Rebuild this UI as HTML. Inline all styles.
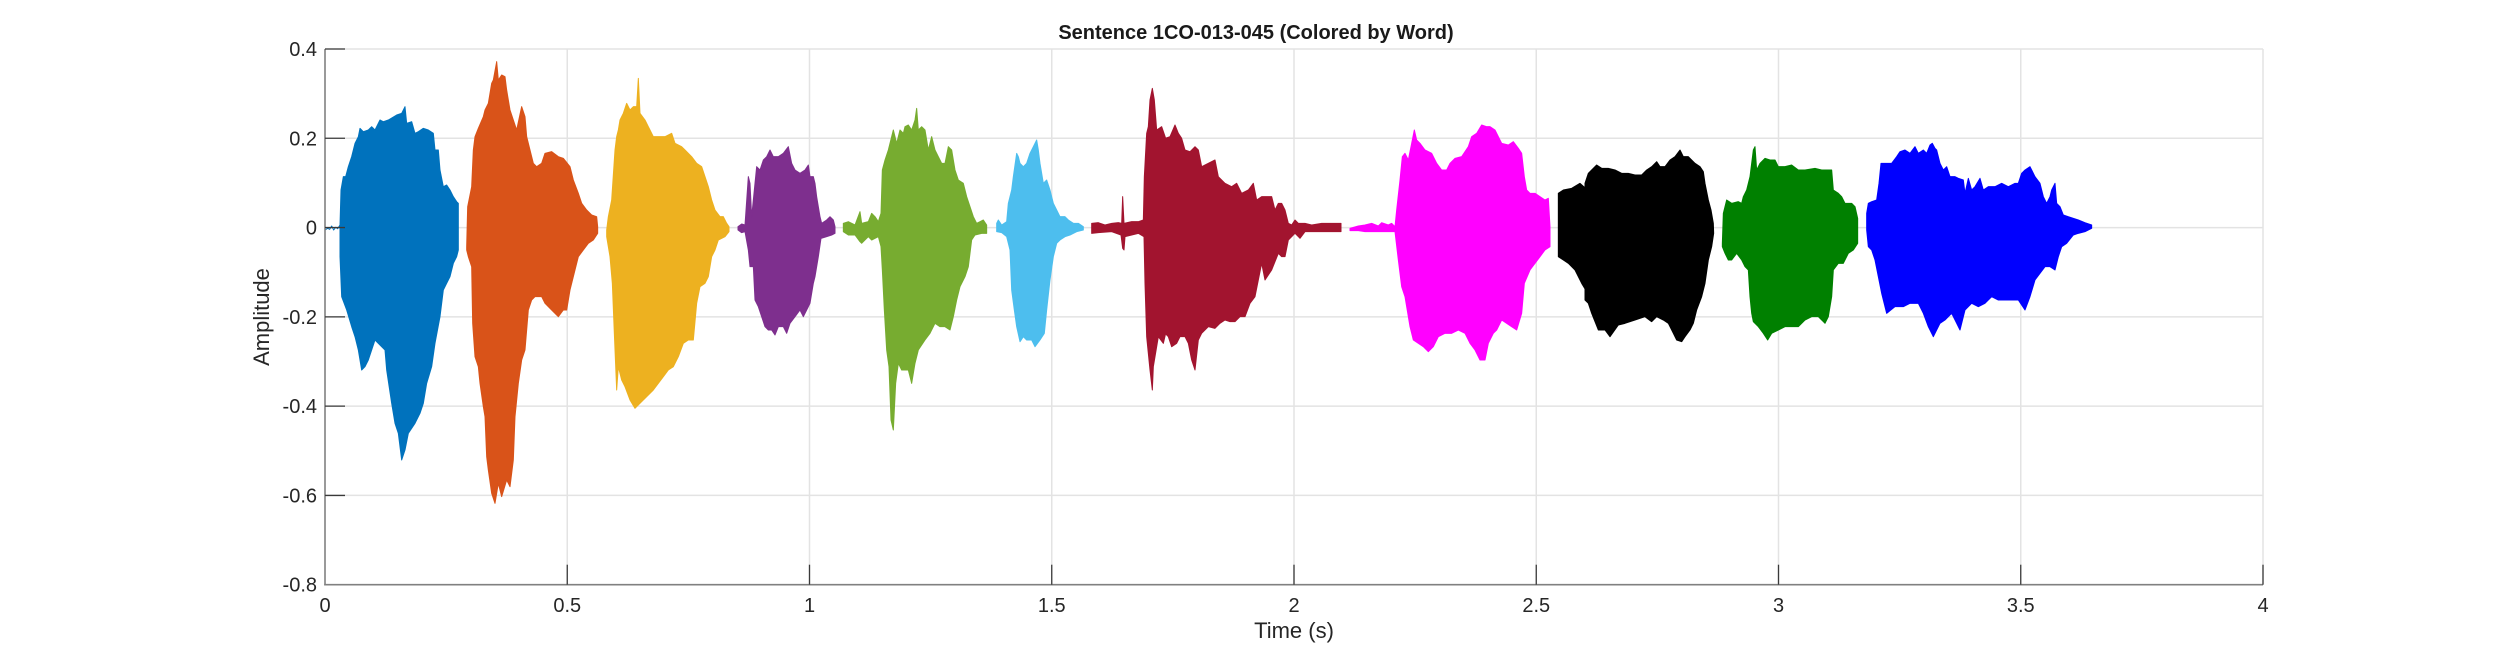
<!DOCTYPE html>
<html><head><meta charset="utf-8"><style>
html,body{margin:0;padding:0;background:#fff;}
svg{display:block;}
text{font-family:"Liberation Sans",Arial,sans-serif;}
</style></head><body>
<svg width="2500" height="657" viewBox="0 0 2500 657" xmlns="http://www.w3.org/2000/svg">
<rect width="2500" height="657" fill="#fff"/>
<!-- grid -->
<g stroke="#e3e3e3" stroke-width="1.5" fill="none">
<line x1="567.25" y1="49" x2="567.25" y2="584.7"/>
<line x1="809.5" y1="49" x2="809.5" y2="584.7"/>
<line x1="1051.75" y1="49" x2="1051.75" y2="584.7"/>
<line x1="1294" y1="49" x2="1294" y2="584.7"/>
<line x1="1536.25" y1="49" x2="1536.25" y2="584.7"/>
<line x1="1778.5" y1="49" x2="1778.5" y2="584.7"/>
<line x1="2020.75" y1="49" x2="2020.75" y2="584.7"/>
<line x1="2263" y1="49" x2="2263" y2="584.7"/>
<line x1="325" y1="49" x2="2263" y2="49"/>
<line x1="325" y1="138.28" x2="2263" y2="138.28"/>
<line x1="325" y1="227.57" x2="2263" y2="227.57"/>
<line x1="325" y1="316.85" x2="2263" y2="316.85"/>
<line x1="325" y1="406.13" x2="2263" y2="406.13"/>
<line x1="325" y1="495.42" x2="2263" y2="495.42"/>
</g>

<!-- waveforms: zoom7 group (x0=325) -->
<g transform="translate(325,50) scale(0.333333)" stroke-width="3" stroke-linejoin="round">
<polyline fill="none" stroke="#0072BD" points="0,540 8,535 14,538 20,528 26,540 32,532 38,536 45,525"/>
<polygon fill="#0072BD" stroke="#0072BD" points="45,525 48,420 55,380 62,380 70,350 80,320 90,280 100,260 105,235 115,245 130,240 140,230 150,240 165,210 175,215 190,210 215,195 230,190 240,170 245,220 260,215 270,250 280,245 295,235 310,240 325,250 330,300 340,300 345,360 355,410 365,405 375,420 385,440 395,455 400,460 400,600 395,620 385,640 375,680 365,700 355,720 345,800 330,880 320,950 305,1000 295,1060 285,1090 270,1120 250,1150 240,1200 230,1230 220,1150 210,1120 200,1060 185,960 180,900 150,870 130,930 120,950 110,960 100,900 90,860 80,830 65,780 50,740 45,620"/>
<polygon fill="#D95319" stroke="#D95319" points="425,590 428,470 440,410 445,300 450,260 460,235 475,200 480,180 490,160 500,100 505,90 515,35 520,90 530,75 540,80 545,120 555,180 565,210 575,240 590,170 600,200 605,260 615,300 625,340 635,350 650,340 660,310 680,305 700,320 715,325 735,350 745,390 760,430 770,460 785,480 800,495 815,500 818,530 818,550 805,570 790,580 775,600 760,620 745,680 735,720 725,780 715,780 700,800 680,780 660,760 650,740 630,740 620,750 610,780 600,900 590,930 580,1000 570,1100 565,1230 555,1310 545,1290 530,1340 520,1300 510,1360 500,1330 490,1260 485,1220 480,1100 475,1070 465,1000 460,950 450,920 443,820 440,650 430,620 425,600"/>
<polygon fill="#EDB120" stroke="#EDB120" points="845,540 850,500 860,450 870,300 875,260 880,240 885,210 895,190 905,160 915,180 925,170 935,170 940,85 945,190 960,210 970,230 985,260 1000,260 1020,260 1040,250 1050,280 1070,290 1080,300 1100,320 1115,340 1130,350 1140,380 1150,410 1160,450 1170,480 1185,500 1195,500 1205,520 1212,530 1212,545 1200,560 1180,570 1170,600 1160,620 1150,680 1140,700 1125,710 1115,760 1105,870 1090,870 1075,880 1060,920 1045,950 1030,960 1015,980 1000,1000 985,1020 965,1040 945,1060 930,1075 915,1050 900,1010 890,990 880,950 875,1020 868,850 862,700 855,620 845,560"/>
</g>

<!-- zoom8 group (x0=745) -->
<g transform="translate(745,50) scale(0.333333)" stroke-width="3" stroke-linejoin="round">
<polygon fill="#7E2F8E" stroke="#7E2F8E" points="-21,530 -10,522 0,525 10,380 15,400 20,500 30,400 35,350 45,360 55,330 65,320 75,300 85,320 100,320 115,310 130,290 140,340 150,360 165,370 180,360 190,345 195,380 205,380 210,400 215,440 220,470 225,500 230,520 245,510 255,500 265,510 270,530 270,550 260,555 245,560 228,565 220,620 210,680 205,700 195,760 185,780 175,800 165,780 150,800 135,820 125,850 115,830 100,830 90,855 80,840 70,840 60,830 50,800 40,770 30,750 25,650 15,650 10,600 0,545 -10,548 -21,540"/>
<polygon fill="#77AC30" stroke="#77AC30" points="295,520 310,515 330,525 345,485 350,520 370,515 380,490 390,500 400,515 408,490 412,360 420,330 430,300 440,260 445,240 455,280 465,240 475,250 480,230 490,225 500,240 510,210 515,175 520,240 530,230 540,240 550,300 560,260 570,300 580,320 590,340 600,340 610,290 620,300 630,360 640,390 655,400 665,440 675,470 685,500 695,520 705,515 715,510 725,525 725,550 710,550 690,555 680,570 670,650 660,680 645,710 635,750 625,800 615,840 600,830 585,830 570,820 555,850 540,870 520,900 510,940 500,1000 490,960 480,960 470,960 460,940 452,1000 445,1140 438,1110 432,950 425,900 418,780 412,660 408,590 400,560 380,570 370,560 350,580 345,575 330,555 310,555 295,545"/>
<polygon fill="#4DBEEE" stroke="#4DBEEE" points="755,520 760,510 770,525 785,515 790,460 800,420 805,380 815,310 820,320 825,340 835,350 845,340 855,310 865,290 875,270 880,300 885,340 895,400 905,390 915,420 925,460 935,480 945,500 960,500 970,510 985,520 1000,520 1015,530 1015,540 995,545 975,555 960,560 945,570 935,580 925,620 915,690 905,780 898,850 885,870 870,890 860,870 845,870 835,860 825,875 815,830 808,780 800,720 795,600 785,560 770,548 755,545"/>
<polygon fill="#A2142F" stroke="#A2142F" points="1040,520 1060,518 1080,525 1100,520 1120,518 1130,520 1133,440 1137,520 1160,515 1180,515 1195,510 1198,380 1205,250 1210,230 1215,150 1222,115 1228,150 1235,240 1250,230 1262,265 1262,850 1255,880 1240,860 1225,950 1222,1020 1215,960 1205,860 1200,700 1197,560 1180,550 1160,555 1140,560 1137,600 1133,595 1128,555 1100,545 1060,548 1040,550"/>
</g>

<!-- zoom9 group (x0=1165) -->
<g transform="translate(1165,50) scale(0.333333)" stroke-width="3" stroke-linejoin="round">
<polygon fill="#A2142F" stroke="#A2142F" points="0,265 15,260 30,225 40,250 50,265 60,300 75,305 90,290 100,300 110,350 130,340 150,330 160,380 180,400 200,410 215,400 230,430 250,420 265,400 275,450 290,440 310,440 320,440 330,480 340,460 350,460 360,480 370,520 380,525 390,510 400,520 420,520 440,525 470,520 500,520 528,520 528,545 500,545 470,545 440,545 420,545 405,565 390,550 370,570 360,620 350,620 340,610 320,660 300,690 290,640 270,740 255,760 240,800 225,800 210,815 195,815 180,810 165,820 150,835 130,830 110,850 100,870 90,960 80,930 70,880 60,860 45,860 35,880 20,890 10,860 0,850"/>
<polygon fill="#FF00FF" stroke="#FF00FF" points="555,535 580,528 600,525 620,520 640,528 650,518 670,525 680,520 690,530 695,480 705,390 712,320 720,310 730,330 740,280 748,240 755,270 765,280 780,300 800,310 815,340 830,360 845,360 855,340 870,325 890,320 910,290 920,260 935,250 950,225 965,230 975,230 990,240 1010,280 1030,285 1045,275 1060,295 1070,310 1078,380 1085,420 1095,430 1110,430 1125,440 1140,450 1150,445 1155,530 1155,590 1140,600 1125,620 1110,640 1095,660 1078,700 1070,790 1055,840 1040,830 1025,820 1010,810 995,840 985,850 970,880 960,930 945,930 930,900 915,880 900,850 880,840 860,850 840,850 820,860 805,890 790,905 775,890 760,880 745,870 735,830 720,740 710,710 700,630 690,545 670,545 650,545 630,545 600,545 580,542 555,542"/>
<polygon fill="#000000" stroke="#000000" points="1180,430 1195,420 1220,415 1245,400 1262,415 1262,720 1250,700 1230,660 1210,640 1195,630 1180,620"/>
</g>

<!-- zoom10 group (x0=1585) -->
<g transform="translate(1585,50) scale(0.333333)" stroke-width="3" stroke-linejoin="round">
<polygon fill="#000000" stroke="#000000" points="0,400 10,370 20,360 35,345 50,355 70,355 90,360 110,370 130,370 150,375 170,375 185,360 200,350 215,335 225,350 240,350 255,330 270,320 285,300 295,320 310,320 330,340 345,350 355,365 360,400 370,450 378,480 385,520 386,550 380,590 370,630 360,700 350,740 335,780 325,820 315,840 300,860 290,875 275,870 265,850 250,820 235,810 215,800 200,815 180,800 150,810 120,820 100,825 75,860 60,840 40,840 20,790 10,760 0,750"/>
<polygon fill="#008000" stroke="#008000" points="412,580 415,490 425,450 440,460 460,455 470,460 475,440 485,420 495,380 505,300 510,290 515,360 525,340 540,325 555,330 570,330 580,350 600,350 620,345 640,360 660,360 690,355 710,360 725,360 740,360 745,420 760,430 770,440 780,460 800,460 810,470 818,505 818,580 805,600 790,610 775,640 760,640 745,660 740,740 730,800 720,820 700,800 680,800 660,810 640,830 620,830 600,830 580,840 560,850 548,870 535,850 520,830 505,815 500,790 495,740 490,660 480,650 470,630 455,610 440,630 430,630 420,610 412,590"/>
<polygon fill="#0000FF" stroke="#0000FF" points="845,490 850,460 860,455 875,450 882,400 888,340 900,340 920,340 935,320 945,305 960,300 975,310 990,290 1000,310 1015,300 1025,310 1035,285 1042,280 1050,295 1055,300 1065,340 1075,360 1085,350 1095,380 1110,380 1120,385 1135,390 1140,430 1150,385 1160,420 1170,410 1185,385 1195,420 1210,410 1230,410 1250,400 1270,410 1290,400 1300,400 1310,370 1320,360 1335,350 1350,380 1365,400 1375,440 1385,460 1395,440 1400,420 1410,400 1415,460 1425,470 1435,495 1450,500 1465,505 1480,510 1500,518 1520,525 1520,535 1500,545 1480,550 1465,555 1445,580 1430,590 1420,620 1410,660 1395,650 1380,650 1365,670 1350,690 1335,740 1320,780 1300,750 1280,750 1260,750 1240,750 1220,740 1200,760 1180,770 1160,760 1140,780 1125,840 1115,820 1100,790 1080,810 1065,820 1045,860 1030,830 1015,790 1000,760 975,760 955,770 930,770 905,790 890,730 880,680 870,630 860,600 850,590 845,540"/>
</g>

<!-- axes -->
<g stroke="#808080" stroke-width="1.6" fill="none">
<line x1="325" y1="49" x2="325" y2="585.5"/>
<line x1="324.2" y1="584.7" x2="2263" y2="584.7"/>
</g>
<g stroke="#3a3a3a" stroke-width="1.3" fill="none">
<line x1="325" y1="49" x2="345" y2="49"/>
<line x1="325" y1="138.28" x2="345" y2="138.28"/>
<line x1="325" y1="227.57" x2="345" y2="227.57"/>
<line x1="325" y1="316.85" x2="345" y2="316.85"/>
<line x1="325" y1="406.13" x2="345" y2="406.13"/>
<line x1="325" y1="495.42" x2="345" y2="495.42"/>
<line x1="567.25" y1="584.7" x2="567.25" y2="564.7"/>
<line x1="809.5" y1="584.7" x2="809.5" y2="564.7"/>
<line x1="1051.75" y1="584.7" x2="1051.75" y2="564.7"/>
<line x1="1294" y1="584.7" x2="1294" y2="564.7"/>
<line x1="1536.25" y1="584.7" x2="1536.25" y2="564.7"/>
<line x1="1778.5" y1="584.7" x2="1778.5" y2="564.7"/>
<line x1="2020.75" y1="584.7" x2="2020.75" y2="564.7"/>
<line x1="2263" y1="584.7" x2="2263" y2="564.7"/>
</g>

<!-- tick labels -->
<g font-size="20" fill="#262626" text-anchor="end">
<text x="317" y="56">0.4</text>
<text x="317" y="145.3">0.2</text>
<text x="317" y="234.6">0</text>
<text x="317" y="323.9">-0.2</text>
<text x="317" y="413.1">-0.4</text>
<text x="317" y="502.4">-0.6</text>
<text x="317" y="591.7">-0.8</text>
</g>
<g font-size="20" fill="#262626" text-anchor="middle">
<text x="325" y="612">0</text>
<text x="567.25" y="612">0.5</text>
<text x="809.5" y="612">1</text>
<text x="1051.75" y="612">1.5</text>
<text x="1294" y="612">2</text>
<text x="1536.25" y="612">2.5</text>
<text x="1778.5" y="612">3</text>
<text x="2020.75" y="612">3.5</text>
<text x="2263" y="612">4</text>
</g>

<text x="1294" y="638" font-size="22" fill="#262626" text-anchor="middle">Time (s)</text>
<text transform="translate(269,317) rotate(-90)" font-size="22" fill="#262626" text-anchor="middle">Amplitude</text>
<text x="1256" y="39" font-size="20" font-weight="bold" fill="#1a1a1a" text-anchor="middle">Sentence 1CO-013-045 (Colored by Word)</text>
</svg>
</body></html>
